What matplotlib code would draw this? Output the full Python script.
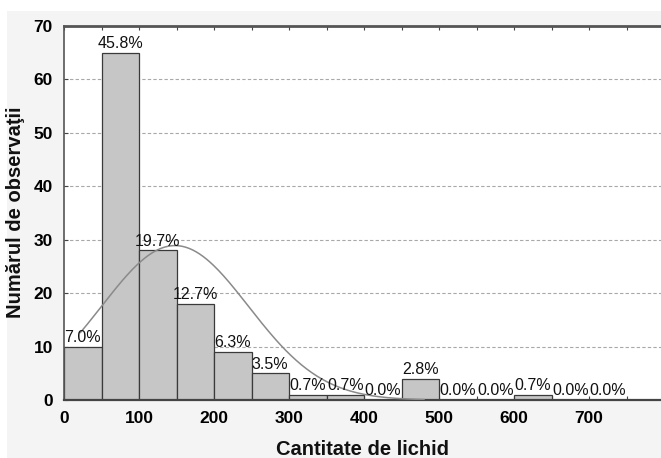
import numpy as np
import matplotlib.pyplot as plt
from matplotlib.patches import Rectangle

# histogram data (bin width 50)
bin_left = [0, 50, 100, 150, 200, 250, 300, 350, 400, 450, 500, 550, 600, 650, 700]
counts = [10, 65, 28, 18, 9, 5, 1, 1, 0, 4, 0, 0, 1, 0, 0]
pct_labels = ['7.0%', '45.8%', '19.7%', '12.7%', '6.3%', '3.5%', '0.7%', '0.7%',
              '0.0%', '2.8%', '0.0%', '0.0%', '0.7%', '0.0%', '0.0%']

# fitted normal curve parameters
curve_mean = 148
curve_sd = 98
n_obs = 142
bin_w = 50

x_ticks = [0, 100, 200, 300, 400, 500, 600, 700]
y_ticks = [0, 10, 20, 30, 40, 50, 60, 70]

tick_font = ['Liberation Sans Narrow', 'Liberation Sans', 'DejaVu Sans']
label_font = ['Liberation Sans', 'DejaVu Sans']

W, H = 661, 458
fig = plt.figure(figsize=(W / 100, H / 100), dpi=100, facecolor='white')

# light grey panel behind the plot (white strip on top / left)
fig.patches.append(Rectangle((7 / W, 0), 1, (H - 11) / H, transform=fig.transFigure,
                             facecolor='#f4f4f4', edgecolor='none', zorder=-10))

ax = fig.add_axes([64 / W, 58 / H, (W - 64) / W, (400 - 26) / H])
ax.set_facecolor('white')

ax.bar(bin_left, counts, width=bin_w, align='edge', facecolor='#c6c6c6',
       edgecolor='#3a3a3a', linewidth=0.9, zorder=2)

for x, c, lab in zip(bin_left, counts, pct_labels):
    ax.text(x + bin_w / 2, c + 0.3, lab, ha='center', va='bottom', fontsize=11.5,
            family=label_font, color='#111111', zorder=4)

xs = np.linspace(22, 480, 200)
ys = n_obs * bin_w / (curve_sd * np.sqrt(2 * np.pi)) * np.exp(-(xs - curve_mean) ** 2 / (2 * curve_sd ** 2))
ax.plot(xs, ys, color='#8a8a8a', linewidth=1.1, zorder=3)

ax.set_xlim(0, 796)
ax.set_ylim(0, 70)
ax.set_xticks(x_ticks)
ax.set_xticks(np.arange(50, 796, 50), minor=True)
ax.set_yticks(y_ticks)
ax.set_xticklabels([str(v) for v in x_ticks], family=tick_font, fontweight='bold', fontsize=12.5)
ax.set_yticklabels([str(v) for v in y_ticks], family=tick_font, fontweight='bold', fontsize=12.5)
ax.tick_params(axis='both', which='both', direction='in', length=3, width=0.8,
               color='#444444', top=True)
ax.tick_params(axis='x', which='major', pad=8)
ax.tick_params(axis='y', which='major', pad=8)

for y in y_ticks[1:-1]:
    ax.axhline(y, color='#a8a8a8', linewidth=0.8, linestyle=(0, (3, 2)), zorder=1)

ax.spines['right'].set_visible(False)
ax.spines['top'].set_linewidth(2.0)
ax.spines['top'].set_color('#555555')
ax.spines['bottom'].set_linewidth(1.6)
ax.spines['bottom'].set_color('#444444')
ax.spines['left'].set_linewidth(1.2)
ax.spines['left'].set_color('#555555')

fig.text(16 / W, 1 - 212 / H, 'Numărul de observaţii', rotation=90, ha='center', va='center',
         fontsize=14.5, fontweight='bold', family=label_font, color='#111111')
fig.text(362 / W, 1 - 455 / H, 'Cantitate de lichid', ha='center', va='baseline',
         fontsize=14.5, fontweight='bold', family=label_font, color='#111111')

fig.savefig('out.png', dpi=100, facecolor=fig.get_facecolor())
